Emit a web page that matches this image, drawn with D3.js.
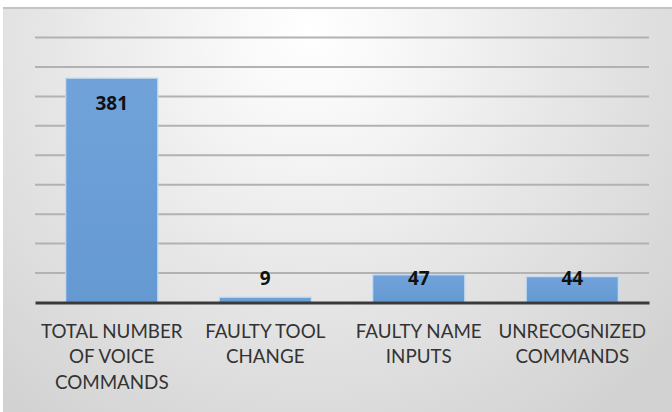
<!DOCTYPE html>
<html>
<head>
<meta charset="utf-8">
<script src="https://cdn.jsdelivr.net/npm/d3@7"></script>
<style>
  html, body { margin: 0; padding: 0; background: #ffffff; }
  svg { display: block; }
</style>
</head>
<body>
<svg id="chart" width="672" height="412"></svg>
<script>
// Voice command error counts
const categories = [
  ["TOTAL NUMBER", "OF VOICE", "COMMANDS"],
  ["FAULTY TOOL", "CHANGE"],
  ["FAULTY NAME", "INPUTS"],
  ["UNRECOGNIZED", "COMMANDS"]
];
const values = [381, 9, 47, 44];
const yTicks = [0, 50, 100, 150, 200, 250, 300, 350, 400, 450];

const W = 672, H = 412;
const margin = { left: 35, right: 23, top: 37.5, bottom: 109.5 };
const svg = d3.select("#chart");

// Backdrop with soft radial shading
const defs = svg.append("defs");
const bg = defs.append("radialGradient").attr("id", "bgGrad")
  .attr("gradientUnits", "userSpaceOnUse")
  .attr("cx", 310).attr("cy", 30).attr("r", 480);
bg.append("stop").attr("offset", "0%").attr("stop-color", "#ffffff");
bg.append("stop").attr("offset", "20%").attr("stop-color", "#f7f7f7");
bg.append("stop").attr("offset", "55%").attr("stop-color", "#e6e6e6");
bg.append("stop").attr("offset", "100%").attr("stop-color", "#d2d2d2");

const barGrad = defs.append("linearGradient").attr("id", "barGrad")
  .attr("x1", 0).attr("y1", 0).attr("x2", 0).attr("y2", 1);
barGrad.append("stop").attr("offset", "0%").attr("stop-color", "#71a3da");
barGrad.append("stop").attr("offset", "100%").attr("stop-color", "#6599d2");

svg.append("rect").attr("x", 0).attr("y", 0).attr("width", W).attr("height", H).attr("fill", "#ffffff");
svg.append("rect").attr("x", 3).attr("y", 7.5).attr("width", W - 3).attr("height", H - 7.5)
  .attr("fill", "url(#bgGrad)");
svg.append("line").attr("x1", 3).attr("x2", W).attr("y1", 8).attr("y2", 8)
  .attr("stroke", "#c4c4c4").attr("stroke-width", 2);

const x = d3.scaleBand()
  .domain(d3.range(categories.length))
  .range([margin.left, W - margin.right])
  .paddingInner(0.4)
  .paddingOuter(0.2);

const y = d3.scaleLinear()
  .domain([0, 450])
  .range([H - margin.bottom, margin.top]);

// Horizontal gridlines
svg.append("g")
  .selectAll("line")
  .data(yTicks.slice(1))
  .join("line")
  .attr("x1", margin.left).attr("x2", W - margin.right)
  .attr("y1", d => y(d)).attr("y2", d => y(d))
  .attr("stroke", "#b2b2b2").attr("stroke-width", 2);

// Bars
svg.append("g")
  .selectAll("rect")
  .data(values)
  .join("rect")
  .attr("x", (d, i) => x(i))
  .attr("y", d => y(d))
  .attr("width", x.bandwidth())
  .attr("height", d => y(0) - y(d))
  .attr("fill", "url(#barGrad)")
  .attr("stroke", "#c4dcf3")
  .attr("stroke-width", 1.2);

// Category axis
const xAxis = svg.append("g")
  .attr("transform", `translate(0,${y(0)})`)
  .call(d3.axisBottom(x).tickSize(0).tickFormat(""));
xAxis.select(".domain").attr("stroke", "#3a3a3a").attr("stroke-width", 3);

const labels = svg.append("g")
  .selectAll("text")
  .data(categories)
  .join("text")
  .attr("x", (d, i) => x(i) + x.bandwidth() / 2)
  .attr("y", y(0) + 35)
  .attr("text-anchor", "middle")
  .attr("font-family", "Lato, 'Open Sans', sans-serif")
  .attr("font-size", 18.8)
  .attr("fill", "#333333");
labels.selectAll("tspan")
  .data(d => d)
  .join("tspan")
  .attr("x", function () { return this.parentNode.getAttribute("x"); })
  .attr("dy", (d, i) => i === 0 ? 0 : 25.5)
  .text(d => d);

// Value labels
svg.append("g")
  .selectAll("text")
  .data(values)
  .join("text")
  .attr("x", (d, i) => x(i) + x.bandwidth() / 2)
  .attr("y", d => Math.min(y(d) + 25, y(0) - 24))
  .attr("dy", "0.35em")
  .attr("text-anchor", "middle")
  .attr("font-family", "'Open Sans', sans-serif")
  .attr("font-weight", 700)
  .attr("font-size", 19)
  .attr("fill", "#111111")
  .text(d => d);
</script>
</body>
</html>
